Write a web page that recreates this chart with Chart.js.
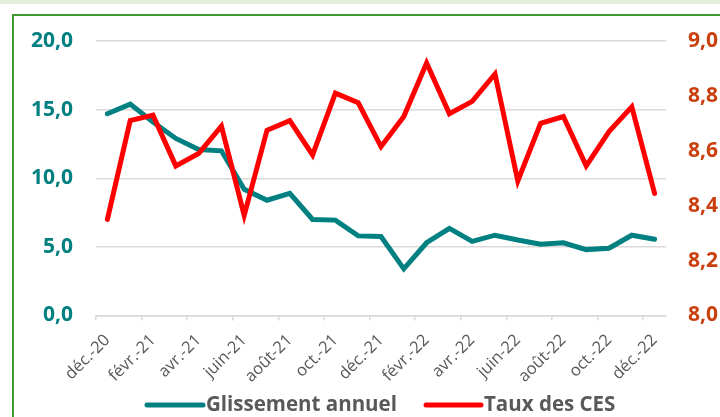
<!DOCTYPE html>
<html>
<head>
<meta charset="utf-8">
<script src="https://cdn.jsdelivr.net/npm/chart.js@4/dist/chart.umd.min.js"></script>
<style>
  html, body { margin: 0; padding: 0; background: #ffffff; }
  #wrap { position: relative; width: 720px; height: 417px; overflow: hidden; background: #ffffff; }
  #band { position: absolute; left: 0; top: 0; width: 720px; height: 4px; background: #e2efda; }
  #frame { position: absolute; left: 12px; top: 14px; width: 800px; height: 500px; border: 2px solid #3f9b2d; box-sizing: border-box; }
  canvas { position: absolute; left: 0; top: 0; }
</style>
</head>
<body>
<div id="wrap">
  <div id="band"></div>
  <div id="frame"></div>
  <canvas id="c" width="720" height="417"></canvas>
</div>
<script>
const months = ['déc.-20','janv.-21','févr.-21','mars-21','avr.-21','mai-21','juin-21','juil.-21','août-21','sept.-21','oct.-21','nov.-21','déc.-21','janv.-22','févr.-22','mars-22','avr.-22','mai-22','juin-22','juil.-22','août-22','sept.-22','oct.-22','nov.-22','déc.-22'];
const glissementAnnuel = [14.7,15.4,14.1,12.9,12.1,12.0,9.2,8.4,8.9,7.0,6.95,5.8,5.75,3.4,5.3,6.35,5.4,5.85,5.5,5.2,5.3,4.8,4.9,5.85,5.55];
const tauxCES = [8.35,8.71,8.73,8.545,8.59,8.69,8.365,8.675,8.71,8.585,8.81,8.775,8.615,8.725,8.92,8.735,8.78,8.88,8.49,8.70,8.725,8.545,8.67,8.76,8.445];
const seriesNames = ['Glissement annuel','Taux des CES'];
const leftTicks = [0,5,10,15,20];
const rightTicks = [8.0,8.2,8.4,8.6,8.8,9.0];

const TEAL = '#008080';
const RED = '#ff0000';
const RIGHT_LBL = '#c9400e';
const GRID = '#d9d9d9';
const TXT = '#595959';

const fmt = v => Number(v).toFixed(1).replace('.', ',');

const customLegend = {
  id: 'customLegend',
  afterDraw(chart) {
    const ctx = chart.ctx;
    const items = [
      {ds: chart.data.datasets[0], x0: 147, x1: 203, tx: 206},
      {ds: chart.data.datasets[1], x0: 426, x1: 481, tx: 484}
    ];
    const y = 405;
    ctx.save();
    ctx.font = 'bold 20.5px "Open Sans"';
    ctx.textBaseline = 'middle';
    ctx.textAlign = 'left';
    items.forEach(it => {
      ctx.strokeStyle = it.ds.borderColor;
      ctx.lineWidth = 5;
      ctx.lineCap = 'round';
      ctx.beginPath();
      ctx.moveTo(it.x0, y);
      ctx.lineTo(it.x1, y);
      ctx.stroke();
      ctx.fillStyle = TXT;
      ctx.fillText(it.ds.label, it.tx, y);
    });
    ctx.restore();
  }
};

new Chart(document.getElementById('c'), {
  type: 'line',
  data: {
    labels: months,
    datasets: [
      { label: seriesNames[0], data: glissementAnnuel, yAxisID: 'y', borderColor: TEAL, backgroundColor: TEAL,
        borderWidth: 5, pointRadius: 0, tension: 0, borderJoinStyle: 'miter', borderCapStyle: 'round', order: 1 },
      { label: seriesNames[1], data: tauxCES, yAxisID: 'y1', borderColor: RED, backgroundColor: RED,
        borderWidth: 5, pointRadius: 0, tension: 0, borderJoinStyle: 'miter', borderCapStyle: 'round', order: 0 }
    ]
  },
  options: {
    responsive: false,
    animation: false,
    layout: { padding: { left: 0, right: 0, top: 41, bottom: 0 } },
    plugins: { legend: { display: false }, tooltip: { enabled: false } },
    scales: {
      x: {
        offset: true,
        border: { display: true, color: GRID, width: 1.5 },
        grid: {
          offset: true, drawOnChartArea: false, drawTicks: true, tickLength: 5, lineWidth: 1.5,
          color: c => (c.index % 2 === 0 ? GRID : 'rgba(0,0,0,0)')
        },
        ticks: {
          autoSkip: false, maxRotation: 45, minRotation: 45, padding: 10,
          color: TXT, font: { family: 'Open Sans', size: 16.5 },
          callback: (v, i) => (i % 2 === 0 ? months[i] : '')
        },
        afterFit: s => { s.height = 101.5; }
      },
      y: {
        position: 'left', min: 0, max: 20,
        afterBuildTicks: s => { s.ticks = leftTicks.map(v => ({value: v})); },
        border: { display: false },
        grid: { color: GRID, lineWidth: 1.5, drawTicks: false },
        ticks: { padding: 23, color: TEAL, font: { family: 'Open Sans', size: 21, weight: 'bold' }, callback: v => fmt(v) },
        afterFit: s => { s.width = 96; }
      },
      y1: {
        position: 'right', min: 8, max: 9,
        afterBuildTicks: s => { s.ticks = rightTicks.map(v => ({value: v})); },
        border: { display: false },
        grid: { drawOnChartArea: false, drawTicks: false },
        ticks: { padding: 22, color: RIGHT_LBL, font: { family: 'Open Sans', size: 21, weight: 'bold' }, callback: v => fmt(v) },
        afterFit: s => { s.width = 54; }
      }
    }
  },
  plugins: [customLegend]
});
</script>
</body>
</html>
